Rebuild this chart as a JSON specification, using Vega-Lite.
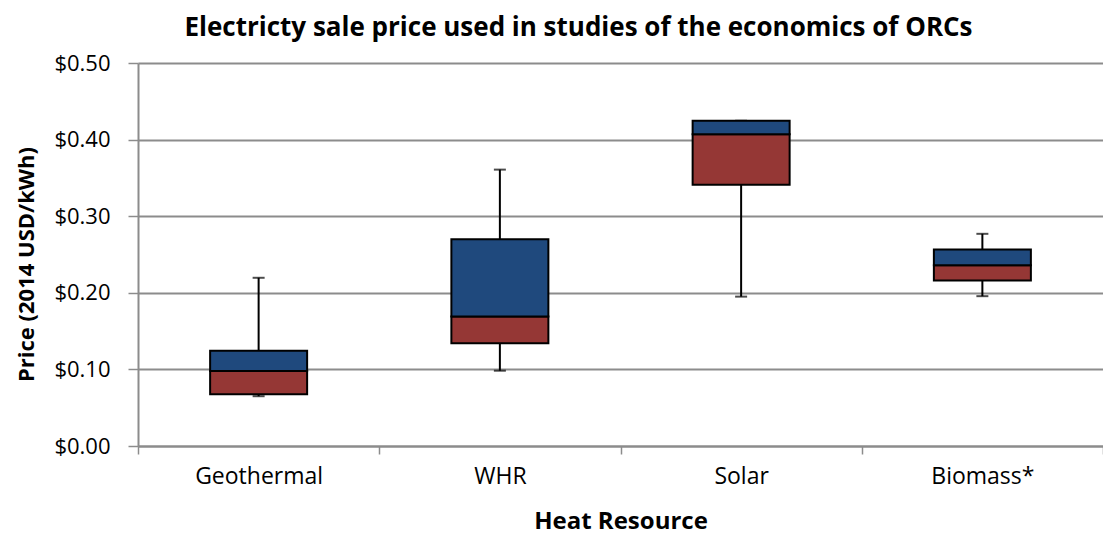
{
  "$schema": "https://vega.github.io/schema/vega-lite/v6.json",
  "width": 965,
  "height": 383,
  "autosize": {"type": "none"},
  "padding": {"left": 138, "top": 63, "right": 0, "bottom": 89},
  "background": "white",
  "title": {
    "text": "Electricty sale price used in studies of the economics of ORCs",
    "font": "Open Sans",
    "fontSize": 26,
    "fontWeight": "bold",
    "color": "black",
    "anchor": "middle",
    "frame": "group",
    "dx": -42,
    "baseline": "alphabetic",
    "offset": -10
  },
  "config": {
    "view": {"stroke": null},
    "font": "Open Sans"
  },
  "data": {
    "values": [
      {"resource": "Geothermal", "min": 0.065, "q1": 0.0674, "median": 0.0978, "q3": 0.1244, "max": 0.2196},
      {"resource": "WHR", "min": 0.0983, "q1": 0.1343, "median": 0.169, "q3": 0.270, "max": 0.3608},
      {"resource": "Solar", "min": 0.195, "q1": 0.341, "median": 0.407, "q3": 0.4246, "max": 0.4246},
      {"resource": "Biomass*", "min": 0.1956, "q1": 0.216, "median": 0.236, "q3": 0.2565, "max": 0.277}
    ]
  },
  "encoding": {
    "x": {
      "field": "resource",
      "type": "nominal",
      "sort": ["Geothermal", "WHR", "Solar", "Biomass*"],
      "scale": {"paddingInner": 0, "paddingOuter": 0},
      "axis": {
        "title": "Heat Resource",
        "titleFont": "Open Sans",
        "titleFontSize": 24,
        "titleFontWeight": "bold",
        "titleColor": "black",
        "titlePadding": 21,
        "labelFont": "Open Sans",
        "labelFontSize": 23,
        "labelColor": "black",
        "labelAngle": 0,
        "labelPadding": 11,
        "tickSize": 8,
        "tickWidth": 1.5,
        "tickColor": "#8c8c8c",
        "tickBand": "extent",
        "domainColor": "#8c8c8c",
        "domainWidth": 2,
        "grid": false
      }
    }
  },
  "layer": [
    {
      "mark": {"type": "rule", "color": "black", "strokeWidth": 2},
      "encoding": {
        "y": {
          "field": "min",
          "type": "quantitative",
          "scale": {"domain": [0, 0.5], "nice": false},
          "axis": {
            "title": "Price (2014 USD/kWh)",
            "titleFont": "Open Sans",
            "titleFontSize": 22,
            "titleFontWeight": "bold",
            "titleColor": "black",
            "titleAngle": -90,
            "titleBaseline": "alphabetic",
            "titleX": -105,
            "titleY": 201,
            "titleAlign": "center",
            "format": "$.2f",
            "values": [0, 0.1, 0.2, 0.3, 0.4, 0.5],
            "labelFont": "Open Sans",
            "labelFontSize": 22,
            "labelColor": "black",
            "labelPadding": 18,
            "tickSize": 10,
            "tickWidth": 1.5,
            "tickColor": "#8c8c8c",
            "domainColor": "#8c8c8c",
            "domainWidth": 2,
            "grid": true,
            "gridColor": "#8c8c8c",
            "gridWidth": 2
          }
        },
        "y2": {"field": "q1"}
      }
    },
    {
      "mark": {"type": "rule", "color": "black", "strokeWidth": 2},
      "encoding": {
        "y": {"field": "q3", "type": "quantitative"},
        "y2": {"field": "max"}
      }
    },
    {
      "mark": {"type": "tick", "color": "black", "size": 12, "thickness": 2, "orient": "horizontal"},
      "encoding": {
        "y": {"field": "min", "type": "quantitative"}
      }
    },
    {
      "mark": {"type": "tick", "color": "black", "size": 12, "thickness": 2, "orient": "horizontal"},
      "encoding": {
        "y": {"field": "max", "type": "quantitative"}
      }
    },
    {
      "mark": {"type": "bar", "fill": "#953735", "stroke": "black", "strokeWidth": 2, "width": 97},
      "encoding": {
        "y": {"field": "q1", "type": "quantitative"},
        "y2": {"field": "median"}
      }
    },
    {
      "mark": {"type": "bar", "fill": "#1f497d", "stroke": "black", "strokeWidth": 2, "width": 97},
      "encoding": {
        "y": {"field": "median", "type": "quantitative"},
        "y2": {"field": "q3"}
      }
    }
  ]
}
